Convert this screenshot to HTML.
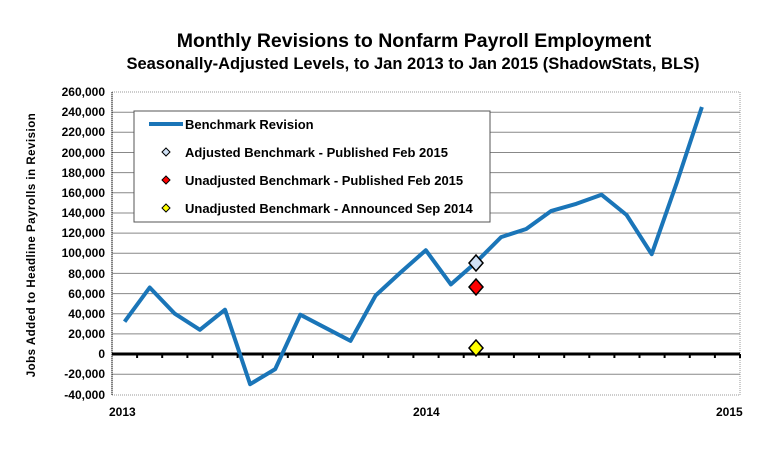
<!DOCTYPE html>
<html><head><style>body{margin:0;background:#fff}svg{display:block}text{font-family:"Liberation Sans",Arial,sans-serif;font-weight:bold;fill:#000}</style></head>
<body>
<svg width="781" height="463" viewBox="0 0 781 463" xmlns="http://www.w3.org/2000/svg">
<text x="414" y="47" font-size="19.5" text-anchor="middle">Monthly Revisions to Nonfarm Payroll Employment</text>
<text x="413" y="69" font-size="16.5" text-anchor="middle">Seasonally-Adjusted Levels, to Jan 2013 to Jan 2015 (ShadowStats, BLS)</text>
<text transform="translate(35,245) rotate(-90)" font-size="11.5" text-anchor="middle" letter-spacing="0.5">Jobs Added to Headline Payrolls in Revision</text>
<rect x="112" y="92" width="628" height="303" fill="none" stroke="#999" stroke-dasharray="1,1"/>
<g stroke="#888" stroke-width="1">
<line x1="112" x2="740" y1="112.2" y2="112.2"/><line x1="112" x2="740" y1="132.3" y2="132.3"/><line x1="112" x2="740" y1="152.5" y2="152.5"/><line x1="112" x2="740" y1="172.6" y2="172.6"/><line x1="112" x2="740" y1="192.8" y2="192.8"/><line x1="112" x2="740" y1="213" y2="213"/><line x1="112" x2="740" y1="233.1" y2="233.1"/><line x1="112" x2="740" y1="253.3" y2="253.3"/><line x1="112" x2="740" y1="273.4" y2="273.4"/><line x1="112" x2="740" y1="293.6" y2="293.6"/><line x1="112" x2="740" y1="313.8" y2="313.8"/><line x1="112" x2="740" y1="333.9" y2="333.9"/><line x1="112" x2="740" y1="374.2" y2="374.2"/>
</g>
<g font-size="12" text-anchor="end">
<text x="105" y="96">260,000</text><text x="105" y="116">240,000</text><text x="105" y="136">220,000</text><text x="105" y="157">200,000</text><text x="105" y="177">180,000</text><text x="105" y="197">160,000</text><text x="105" y="217">140,000</text><text x="105" y="237">120,000</text><text x="105" y="257">100,000</text><text x="105" y="278">80,000</text><text x="105" y="298">60,000</text><text x="105" y="318">40,000</text><text x="105" y="338">20,000</text><text x="105" y="358">0</text><text x="105" y="378">-20,000</text><text x="105" y="399">-40,000</text>
</g>
<line x1="112" x2="740" y1="354" y2="354" stroke="#000" stroke-width="3"/>
<path d="M112,92V395" stroke="#000" stroke-width="1" stroke-dasharray="1,1"/>
<g font-size="12"><text x="109" y="416">2013</text><text x="413" y="416">2014</text><text x="716" y="416">2015</text></g>
<polyline fill="none" stroke="#1a75b8" stroke-width="4" stroke-linejoin="round" points="124.6,321.7 149.7,287.5 174.8,313.7 199.9,329.8 225,309.7 250.1,384.2 275.2,369.1 300.3,314.7 325.4,327.8 350.5,340.9 375.6,295.5 400.7,272.4 425.8,250.2 450.9,284.4 476,262.3 501.1,237.1 526.2,229 551.3,210.9 576.4,203.8 601.5,194.7 626.6,215 651.7,254.2 676.8,182.6 701.9,107"/>
<rect x="134" y="111" width="356" height="111" fill="#fff" stroke="#555"/>
<line x1="149" x2="183" y1="124" y2="124" stroke="#1a75b8" stroke-width="4"/>
<text x="185" y="129" font-size="13">Benchmark Revision</text>
<path d="M166,148l4,4l-4,4l-4,-4z" fill="#cfe0f5" stroke="#000"/>
<text x="185" y="157" font-size="13">Adjusted Benchmark - Published Feb 2015</text>
<path d="M166,176l4,4l-4,4l-4,-4z" fill="#f00" stroke="#000"/>
<text x="185" y="185" font-size="13">Unadjusted Benchmark - Published Feb 2015</text>
<path d="M166,204l4,4l-4,4l-4,-4z" fill="#ff0" stroke="#000"/>
<text x="185" y="213" font-size="13">Unadjusted Benchmark - Announced Sep 2014</text>
<path d="M476,255l7,8l-7,8l-7,-8z" fill="#cfe0f5" stroke="#000" stroke-width="1.5"/>
<path d="M476,279l7,8l-7,8l-7,-8z" fill="#f00" stroke="#000" stroke-width="1.5"/>
<path d="M476,340l7,8l-7,8l-7,-8z" fill="#ff0" stroke="#000" stroke-width="1.5"/>
<g stroke="#000" stroke-width="2">
<line x1="137.1" x2="137.1" y1="354" y2="358"/><line x1="162.2" x2="162.2" y1="354" y2="358"/><line x1="187.4" x2="187.4" y1="354" y2="358"/><line x1="212.5" x2="212.5" y1="354" y2="358"/><line x1="237.6" x2="237.6" y1="354" y2="358"/><line x1="262.7" x2="262.7" y1="354" y2="358"/><line x1="287.8" x2="287.8" y1="354" y2="358"/><line x1="313" x2="313" y1="354" y2="358"/><line x1="338.1" x2="338.1" y1="354" y2="358"/><line x1="363.2" x2="363.2" y1="354" y2="358"/><line x1="388.3" x2="388.3" y1="354" y2="358"/><line x1="413.4" x2="413.4" y1="354" y2="358"/><line x1="438.6" x2="438.6" y1="354" y2="358"/><line x1="463.7" x2="463.7" y1="354" y2="358"/><line x1="488.8" x2="488.8" y1="354" y2="358"/><line x1="513.9" x2="513.9" y1="354" y2="358"/><line x1="539" x2="539" y1="354" y2="358"/><line x1="564.2" x2="564.2" y1="354" y2="358"/><line x1="589.3" x2="589.3" y1="354" y2="358"/><line x1="614.4" x2="614.4" y1="354" y2="358"/><line x1="639.5" x2="639.5" y1="354" y2="358"/><line x1="664.6" x2="664.6" y1="354" y2="358"/><line x1="689.8" x2="689.8" y1="354" y2="358"/><line x1="714.9" x2="714.9" y1="354" y2="358"/><line x1="740" x2="740" y1="354" y2="358"/>
</g>
</svg>
</body></html>
